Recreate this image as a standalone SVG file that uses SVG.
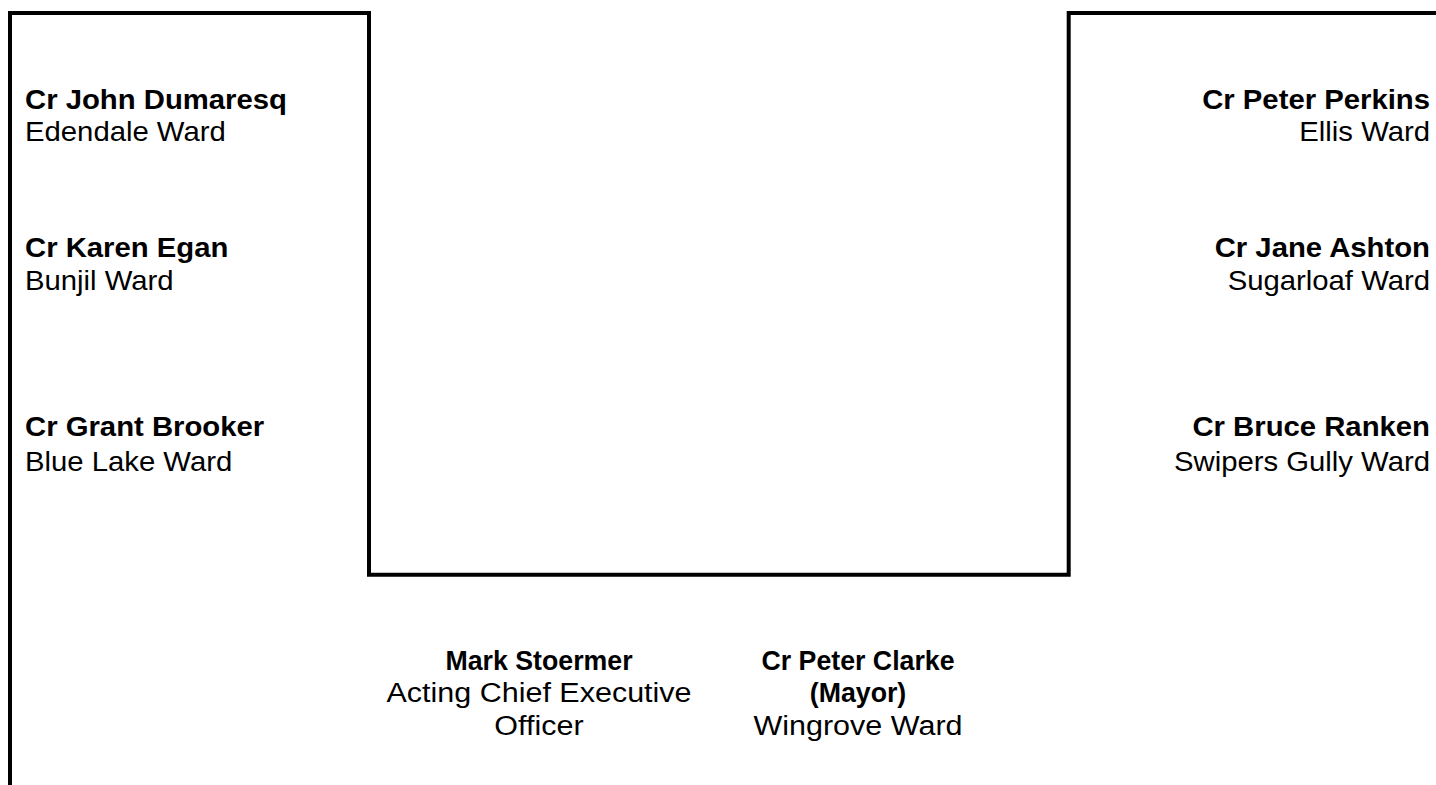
<svg xmlns="http://www.w3.org/2000/svg" width="1436" height="785" viewBox="0 0 1436 785">
  <style>
    text { font-family: "Liberation Sans", Arial, sans-serif; font-size: 27px; fill: #000; }
    .b { font-weight: bold; }
    .r { text-anchor: end; }
    .c { text-anchor: middle; }
    .wire { fill: none; stroke: #000; stroke-width: 4; stroke-linecap: butt; stroke-linejoin: miter; }
  </style>
  <rect width="1436" height="785" fill="#fff"/>

  <!-- connector lines -->
  <g id="connectors">
    <path class="wire" d="M10 785 V13 H369 V574.7 H1068.7 V13 H1436"/>
  </g>

  <!-- left column -->
  <g id="dumaresq">
    <text class="b" transform="translate(25,109) scale(1.085,1)">Cr John Dumaresq</text>
    <text transform="translate(25,141) scale(1.085,1)">Edendale Ward</text>
  </g>
  <g id="egan">
    <text class="b" transform="translate(25,257) scale(1.085,1)">Cr Karen Egan</text>
    <text transform="translate(25,290) scale(1.085,1)">Bunjil Ward</text>
  </g>
  <g id="brooker">
    <text class="b" transform="translate(25,436) scale(1.085,1)">Cr Grant Brooker</text>
    <text transform="translate(25,471) scale(1.085,1)">Blue Lake Ward</text>
  </g>

  <!-- right column -->
  <g id="perkins">
    <text class="b r" transform="translate(1430,109) scale(1.085,1)">Cr Peter Perkins</text>
    <text class="r" transform="translate(1430,141) scale(1.085,1)">Ellis Ward</text>
  </g>
  <g id="ashton">
    <text class="b r" transform="translate(1430,257) scale(1.085,1)">Cr Jane Ashton</text>
    <text class="r" transform="translate(1430,290) scale(1.085,1)">Sugarloaf Ward</text>
  </g>
  <g id="ranken">
    <text class="b r" transform="translate(1430,436) scale(1.085,1)">Cr Bruce Ranken</text>
    <text class="r" transform="translate(1430,471) scale(1.085,1)">Swipers Gully Ward</text>
  </g>

  <!-- bottom pair -->
  <g id="stoermer">
    <text class="b c" transform="translate(539,670) scale(0.99,1)">Mark Stoermer</text>
    <text class="c" transform="translate(539,702) scale(1.13,1)">Acting Chief Executive</text>
    <text class="c" transform="translate(539,735) scale(1.13,1)">Officer</text>
  </g>
  <g id="clarke">
    <text class="b c" transform="translate(858,670) scale(0.99,1)">Cr Peter Clarke</text>
    <text class="b c" transform="translate(858,702) scale(0.99,1)">(Mayor)</text>
    <text class="c" transform="translate(858,735) scale(1.13,1)">Wingrove Ward</text>
  </g>
</svg>
